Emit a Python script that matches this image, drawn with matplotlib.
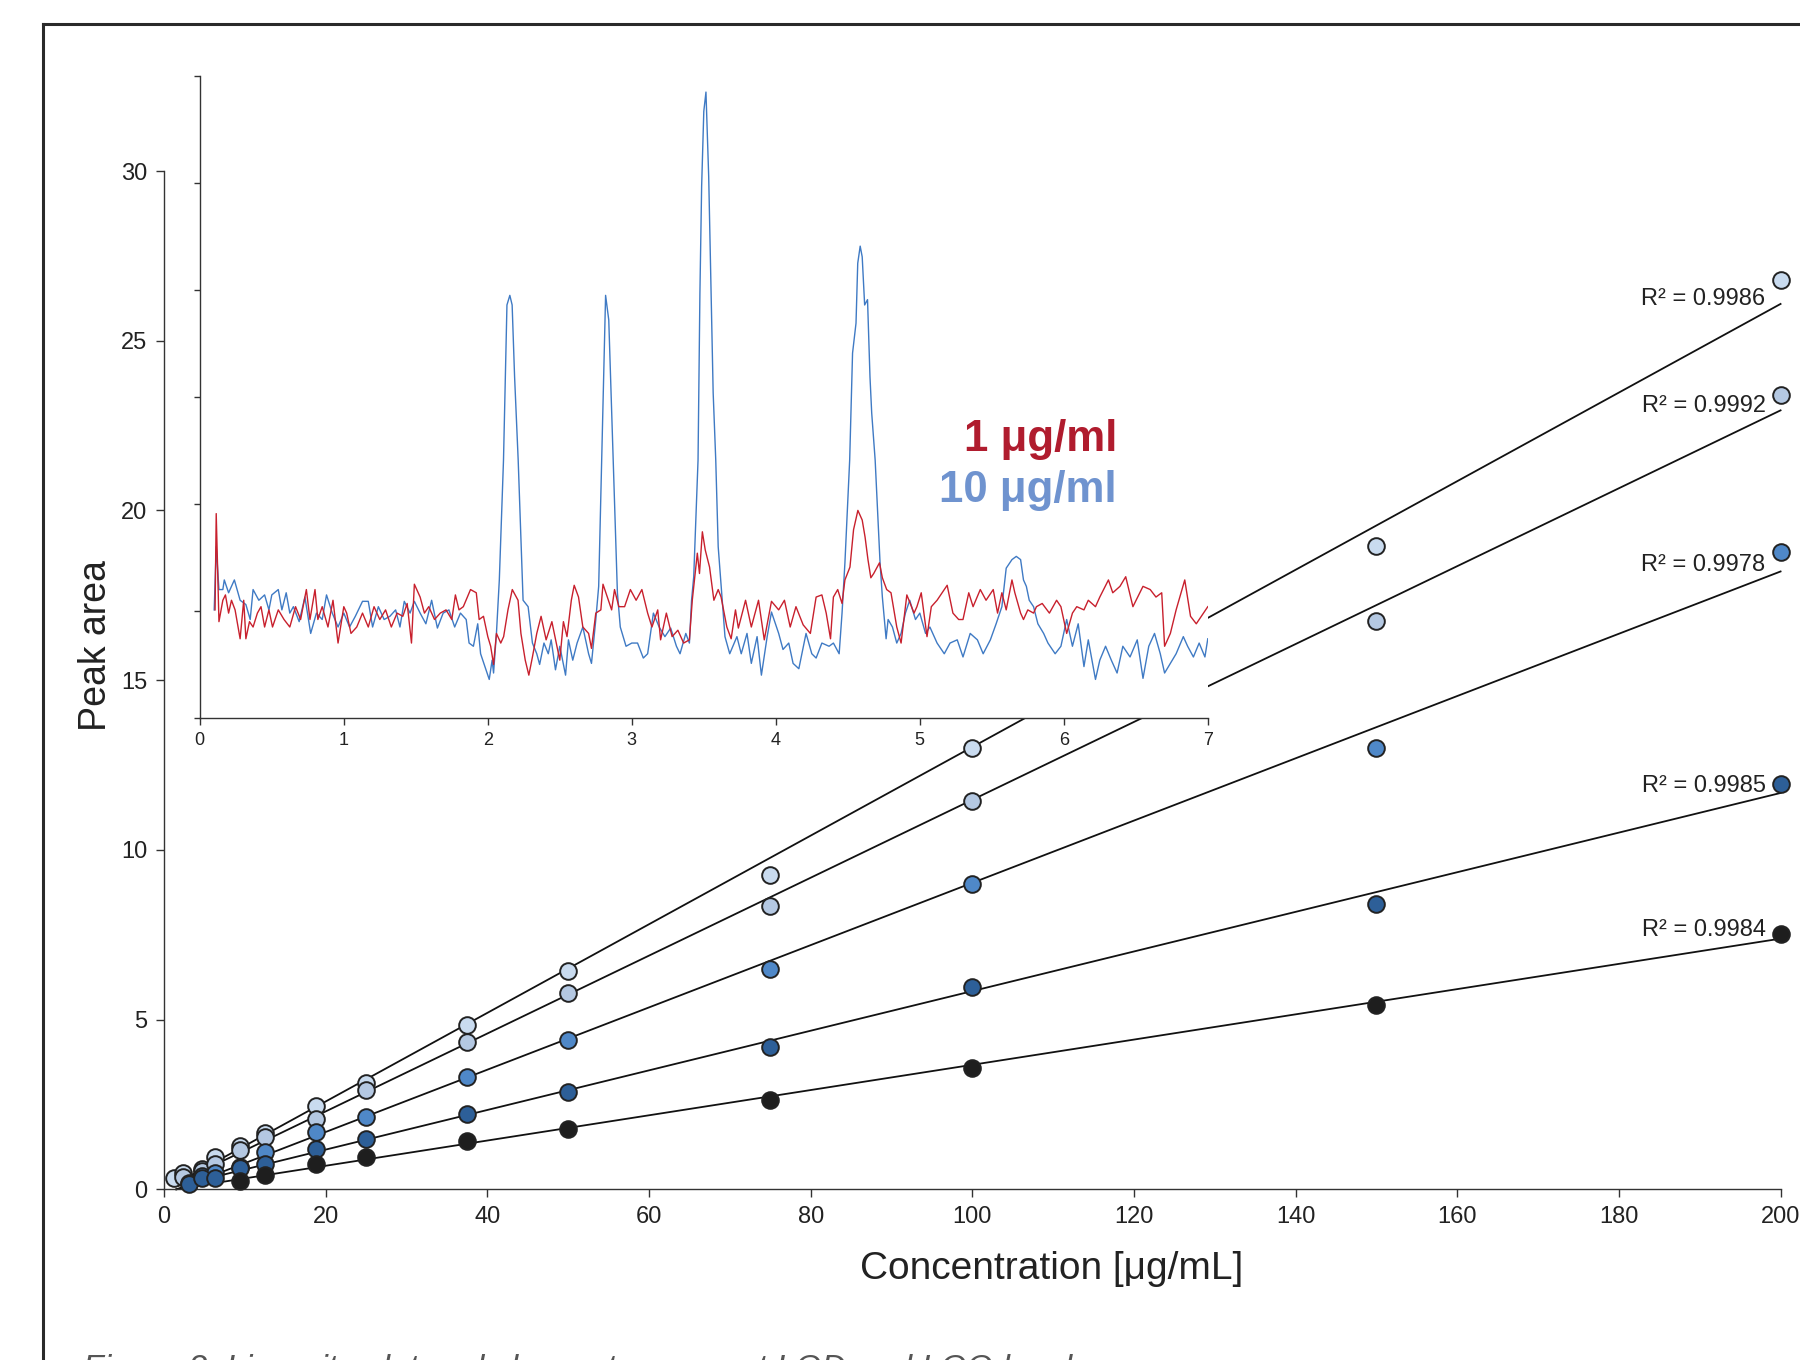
import numpy as np
import matplotlib
matplotlib.use("Agg")
import matplotlib.pyplot as plt
from matplotlib.lines import Line2D

plt.rcParams['font.family'] = ['Liberation Sans', 'DejaVu Sans']

# ---------------- calibration data ----------------
conc_s1 = [1.17, 2.34, 4.69, 6.25, 9.375, 12.5, 18.75, 25, 37.5, 50, 75, 100, 150, 200]
area_s1 = [0.32, 0.47, 0.59, 0.96, 1.28, 1.65, 2.45, 3.14, 4.84, 6.43, 9.27, 12.99, 18.94, 26.78]
conc_s2 = [2.34, 4.69, 6.25, 9.375, 12.5, 18.75, 25, 37.5, 50, 75, 100, 150, 200]
area_s2 = [0.35, 0.55, 0.75, 1.16, 1.53, 2.07, 2.92, 4.33, 5.78, 8.35, 11.43, 16.74, 23.40]
conc_s3 = [3.125, 4.69, 6.25, 9.375, 12.5, 18.75, 25, 37.5, 50, 75, 100, 150, 200]
area_s3 = [0.20, 0.38, 0.47, 0.67, 1.11, 1.70, 2.14, 3.31, 4.40, 6.49, 9.00, 12.99, 18.77]
conc_s4 = [3.125, 4.69, 6.25, 9.375, 12.5, 18.75, 25, 37.5, 50, 75, 100, 150, 200]
area_s4 = [0.17, 0.33, 0.32, 0.62, 0.75, 1.18, 1.47, 2.23, 2.88, 4.19, 5.95, 8.42, 11.94]
conc_s5 = [9.375, 12.5, 18.75, 25, 37.5, 50, 75, 100, 150, 200]
area_s5 = [0.24, 0.42, 0.74, 0.94, 1.42, 1.79, 2.64, 3.58, 5.44, 7.51]
r2_labels = ["R² = 0.9986", "R² = 0.9992", "R² = 0.9978", "R² = 0.9985", "R² = 0.9984"]

x_ticks = [0, 20, 40, 60, 80, 100, 120, 140, 160, 180, 200]
y_ticks = [0, 5, 10, 15, 20, 25, 30]

# ---------------- chromatogram data ----------------
t_red = [0.106, 0.114, 0.133, 0.16, 0.178, 0.20, 0.22, 0.245, 0.28, 0.305, 0.32, 0.345, 0.37, 0.40,
         0.425, 0.45, 0.48, 0.505, 0.545, 0.585, 0.625, 0.665, 0.70, 0.74, 0.765, 0.80, 0.82, 0.85,
         0.89, 0.925, 0.96, 1.00, 1.02, 1.05, 1.09, 1.13, 1.17, 1.21, 1.25, 1.29, 1.33, 1.37, 1.41,
         1.44, 1.47, 1.49, 1.53, 1.56, 1.59, 1.63, 1.67, 1.71, 1.75, 1.775, 1.80, 1.83, 1.88, 1.92,
         1.94, 1.97, 2.00, 2.02, 2.04, 2.06, 2.09, 2.11, 2.14, 2.17, 2.21, 2.23, 2.26, 2.285, 2.31,
         2.34, 2.37, 2.405, 2.445, 2.48, 2.50, 2.525, 2.55, 2.58, 2.60, 2.63, 2.66, 2.70, 2.72, 2.75,
         2.785, 2.80, 2.83, 2.86, 2.88, 2.91, 2.95, 2.99, 3.03, 3.07, 3.11, 3.14, 3.18, 3.20, 3.24,
         3.28, 3.32, 3.36, 3.40, 3.42, 3.455, 3.47, 3.49, 3.51, 3.54, 3.57, 3.60, 3.62, 3.66, 3.69,
         3.72, 3.74, 3.79, 3.83, 3.88, 3.92, 3.97, 4.02, 4.06, 4.10, 4.14, 4.19, 4.24, 4.28, 4.32,
         4.35, 4.38, 4.40, 4.43, 4.46, 4.48, 4.515, 4.54, 4.57, 4.60, 4.62, 4.64, 4.66, 4.68, 4.72,
         4.74, 4.77, 4.80, 4.84, 4.87, 4.91, 4.96, 4.98, 5.01, 5.05, 5.08, 5.12, 5.19, 5.23, 5.27,
         5.30, 5.34, 5.37, 5.42, 5.46, 5.51, 5.54, 5.57, 5.60, 5.64, 5.66, 5.70, 5.72, 5.75, 5.79,
         5.81, 5.85, 5.90, 5.95, 5.98, 6.02, 6.06, 6.09, 6.14, 6.17, 6.22, 6.25, 6.31, 6.34, 6.39,
         6.43, 6.48, 6.55, 6.60, 6.64, 6.68, 6.70, 6.74, 6.78, 6.84, 6.88, 6.92, 6.97, 7.00]
v_red = [1.01, 1.91, 0.90, 1.10, 1.15, 0.98, 1.10, 1.01, 0.74, 1.10, 0.74, 0.90, 0.85, 0.98,
         1.04, 0.85, 1.01, 0.85, 1.01, 0.92, 0.85, 1.04, 0.92, 1.20, 0.92, 1.20, 0.92, 1.04,
         0.85, 1.10, 0.70, 1.04, 0.98, 0.79, 0.85, 0.98, 0.85, 1.04, 0.92, 1.01, 0.85, 0.98, 0.95,
         1.07, 0.70, 1.25, 1.13, 0.98, 1.04, 0.92, 0.98, 1.01, 0.92, 1.15, 1.01, 1.04, 1.20, 1.17,
         0.92, 0.95, 0.76, 0.67, 0.50, 0.79, 0.70, 0.76, 1.01, 1.20, 1.10, 0.79, 0.54, 0.40, 0.57,
         0.79, 0.95, 0.73, 0.90, 0.67, 0.54, 0.90, 0.76, 1.10, 1.24, 1.13, 0.85, 0.79, 0.65, 0.98,
         1.01, 1.25, 1.13, 1.01, 1.20, 1.04, 1.04, 1.20, 1.10, 1.20, 0.98, 0.85, 1.01, 0.73, 0.98,
         0.76, 0.82, 0.70, 0.73, 1.10, 1.54, 1.35, 1.74, 1.57, 1.41, 1.10, 1.20, 1.13, 0.85, 0.74,
         1.01, 0.84, 1.10, 0.85, 1.10, 0.73, 1.09, 1.01, 1.10, 0.85, 1.04, 0.87, 0.79, 1.13, 1.15,
         0.98, 0.74, 1.13, 1.20, 1.07, 1.29, 1.41, 1.76, 1.94, 1.85, 1.69, 1.48, 1.31, 1.35, 1.45,
         1.31, 1.20, 1.17, 0.85, 0.70, 1.15, 0.98, 1.04, 1.17, 0.76, 1.04, 1.10, 1.24, 0.98, 0.92,
         0.92, 1.17, 1.04, 1.20, 1.10, 1.20, 0.98, 1.17, 1.01, 1.29, 1.17, 0.98, 0.92, 1.01, 0.98,
         1.04, 1.07, 0.98, 1.10, 1.04, 0.79, 0.98, 1.04, 1.01, 1.10, 1.04, 1.13, 1.29, 1.17, 1.23,
         1.32, 1.04, 1.23, 1.20, 1.13, 1.17, 0.67, 0.79, 1.01, 1.29, 0.95, 0.88, 0.98, 1.04]

t_blue = [0.10, 0.114, 0.133, 0.16, 0.17, 0.20, 0.24, 0.28, 0.32, 0.35, 0.37, 0.41, 0.45, 0.48,
          0.50, 0.545, 0.57, 0.60, 0.625, 0.65, 0.69, 0.73, 0.77, 0.81, 0.85, 0.88, 0.92, 0.96,
          1.00, 1.04, 1.08, 1.13, 1.17, 1.20, 1.24, 1.28, 1.32, 1.36, 1.39, 1.42, 1.46, 1.49, 1.53,
          1.57, 1.61, 1.65, 1.69, 1.73, 1.77, 1.81, 1.85, 1.87, 1.90, 1.93, 1.95, 1.98, 2.01, 2.03,
          2.04, 2.06, 2.08, 2.109, 2.133, 2.153, 2.169, 2.186, 2.211, 2.245, 2.28, 2.31, 2.34, 2.36,
          2.39, 2.42, 2.44, 2.47, 2.50, 2.54, 2.56, 2.59, 2.62, 2.66, 2.70, 2.72, 2.75, 2.77, 2.791,
          2.818, 2.840, 2.871, 2.90, 2.92, 2.96, 3.00, 3.04, 3.08, 3.11, 3.15, 3.19, 3.23, 3.27,
          3.31, 3.335, 3.375, 3.40, 3.415, 3.43, 3.460, 3.473, 3.485, 3.500, 3.515, 3.534, 3.551,
          3.565, 3.583, 3.60, 3.647, 3.68, 3.73, 3.76, 3.80, 3.83, 3.87, 3.90, 3.94, 3.97, 4.02,
          4.05, 4.09, 4.12, 4.16, 4.21, 4.25, 4.28, 4.32, 4.37, 4.40, 4.44, 4.46, 4.48, 4.513,
          4.533, 4.557, 4.569, 4.586, 4.600, 4.617, 4.637, 4.654, 4.666, 4.690, 4.724, 4.74, 4.766,
          4.78, 4.81, 4.84, 4.87, 4.90, 4.93, 4.97, 5.00, 5.04, 5.07, 5.12, 5.17, 5.21, 5.26, 5.30,
          5.35, 5.40, 5.44, 5.49, 5.53, 5.57, 5.60, 5.64, 5.67, 5.70, 5.72, 5.74, 5.76, 5.79, 5.82,
          5.86, 5.89, 5.94, 5.98, 6.02, 6.06, 6.10, 6.14, 6.17, 6.22, 6.25, 6.29, 6.33, 6.37, 6.41,
          6.46, 6.51, 6.55, 6.59, 6.63, 6.67, 6.70, 6.74, 6.78, 6.83, 6.86, 6.90, 6.94, 6.98, 7.00]
v_blue = [1.01, 1.60, 1.20, 1.20, 1.29, 1.17, 1.29, 1.10, 1.06, 0.92, 1.20, 1.10, 1.15, 1.01,
          1.15, 1.20, 1.01, 1.17, 0.98, 1.04, 0.90, 1.13, 0.79, 0.98, 0.92, 1.15, 0.98, 0.85,
          0.98, 0.85, 0.95, 1.09, 1.09, 0.85, 1.04, 0.92, 0.95, 1.01, 0.85, 1.09, 0.98, 1.09, 0.98,
          0.88, 1.10, 0.84, 0.98, 1.01, 0.85, 0.98, 0.92, 0.70, 0.67, 0.88, 0.60, 0.48, 0.36, 0.54,
          0.42, 0.79, 1.29, 2.41, 3.86, 3.95, 3.86, 3.19, 2.41, 1.10, 1.04, 0.70, 0.60, 0.50,
          0.70, 0.60, 0.73, 0.45, 0.67, 0.40, 0.73, 0.54, 0.70, 0.85, 0.60, 0.51, 0.92, 1.23, 2.41,
          3.95, 3.72, 2.41, 1.17, 0.85, 0.67, 0.70, 0.70, 0.56, 0.60, 0.98, 0.85, 0.76, 0.84,
          0.67, 0.60, 0.79, 0.70, 1.10, 1.32, 2.41, 3.97, 4.97, 5.67, 5.85, 5.06, 3.97,
          3.04, 2.41, 1.60, 0.76, 0.60, 0.76, 0.60, 0.79, 0.51, 0.76, 0.40, 0.76, 0.99, 0.79,
          0.64, 0.70, 0.51, 0.46, 0.79, 0.60, 0.56, 0.70, 0.67, 0.70, 0.60, 0.98, 1.45, 2.41,
          3.41, 3.69, 4.25, 4.41, 4.31, 3.86, 3.91, 3.19, 2.85, 2.41, 1.45, 1.13, 0.74,
          0.92, 0.85, 0.70, 0.79, 0.98, 1.10, 0.92, 0.98, 0.79, 0.85, 0.70, 0.60, 0.70, 0.73, 0.57,
          0.79, 0.73, 0.60, 0.73, 0.88, 1.04, 1.40, 1.48, 1.51, 1.48, 1.29, 1.23, 1.10, 1.04, 0.88,
          0.79, 0.70, 0.60, 0.67, 0.92, 0.67, 0.88, 0.48, 0.73, 0.36, 0.54, 0.67, 0.54, 0.42, 0.67,
          0.57, 0.73, 0.37, 0.67, 0.79, 0.60, 0.42, 0.51, 0.60, 0.76, 0.67, 0.57, 0.70, 0.57, 0.74]
inset_x_ticks = [0, 1, 2, 3, 4, 5, 6, 7]
inset_y_ticks = [0, 1, 2, 3, 4, 5, 6]
legend_texts = ["1 μg/ml", "10 μg/ml"]

# ---------------- styles ----------------
series = [
    (conc_s1, area_s1, '#c9dbef'),
    (conc_s2, area_s2, '#b4c8e2'),
    (conc_s3, area_s3, '#4f88c8'),
    (conc_s4, area_s4, '#2d5f98'),
    (conc_s5, area_s5, '#1e1e1e'),
]
label_offsets = [-19, -11, -13, -2, 4]
axis_col = '#333333'

fig = plt.figure(figsize=(18, 13.6), dpi=100)

# frame lines around the figure panel
fig.add_artist(Line2D([0.024, 1.0], [0.9825, 0.9825], transform=fig.transFigure,
                      color='#2a2a2a', lw=2.2))
fig.add_artist(Line2D([0.024, 0.024], [0.0, 0.9825], transform=fig.transFigure,
                      color='#2a2a2a', lw=2.2))

ax = fig.add_axes([0.0912, 0.1255, 0.898, 0.7487])
ax.set_xlim(0, 200)
ax.set_ylim(0, 30)
for sp in ['top', 'right']:
    ax.spines[sp].set_visible(False)
for sp in ['left', 'bottom']:
    ax.spines[sp].set_color(axis_col)
    ax.spines[sp].set_linewidth(1.0)
ax.set_xticks(x_ticks)
ax.set_yticks(y_ticks)
ax.tick_params(direction='out', length=6, width=1, color=axis_col, labelsize=17,
               labelcolor='#222222', pad=6)

for i, (xc, ya, col) in enumerate(series):
    xc = np.asarray(xc); ya = np.asarray(ya)
    k, b = np.polyfit(xc, ya, 1)
    xl = np.array([1.5, 200.0])
    ax.plot(xl, k * xl + b, color='#111111', lw=1.3, zorder=2, clip_on=False)
    ax.plot(xc, ya, 'o', ms=12, mfc=col, mec='#222222', mew=1.4, zorder=3, clip_on=False)
    ax.annotate(r2_labels[i], xy=(200, ya[-1]), xytext=(-15, label_offsets[i]),
                textcoords='offset pixels', ha='right', va='center', fontsize=17,
                color='#222222')

ax.set_xlabel("Concentration [μg/mL]", fontsize=28, color='#222222')
ax.xaxis.set_label_coords(0.549, -0.061)
ax.set_ylabel("Peak area", fontsize=27, color='#222222')
ax.yaxis.set_label_coords(-0.031, 0.534)

# ---------------- inset chromatogram ----------------
ins = fig.add_axes([0.111, 0.4721, 0.56, 0.4720])
ins.set_facecolor('white')
ins.set_zorder(5)
ins.set_xlim(0, 7)
ins.set_ylim(0, 6)
for sp in ['top', 'right']:
    ins.spines[sp].set_visible(False)
for sp in ['left', 'bottom']:
    ins.spines[sp].set_color(axis_col)
    ins.spines[sp].set_linewidth(1.0)
ins.set_xticks(inset_x_ticks)
ins.set_yticks(inset_y_ticks)
ins.set_yticklabels([])
ins.tick_params(axis='x', direction='out', length=5, width=1, color=axis_col,
                labelsize=13, labelcolor='#222222', pad=5)
ins.tick_params(axis='y', direction='out', length=4, width=1, color=axis_col)
ins.plot(t_red, v_red, color='#c8202d', lw=1.0, zorder=3)
ins.plot(t_blue, v_blue, color='#3f7ac4', lw=1.0, zorder=2)
ins.text(6.37, 2.60, legend_texts[0], color='#b01c2e', fontsize=31.5, fontweight='bold',
         ha='right', va='center')
ins.text(6.37, 2.13, legend_texts[1], color='#6f93cf', fontsize=31.5, fontweight='bold',
         ha='right', va='center')

# caption (cut at bottom edge)
fig.text(0.046, -0.0135, "Figure 2: Linearity plot and chromatograms at LOD and LOQ levels",
         fontsize=24.4, style='italic', color='#555555', ha='left', va='baseline')

fig.savefig('out.png', dpi=100)
